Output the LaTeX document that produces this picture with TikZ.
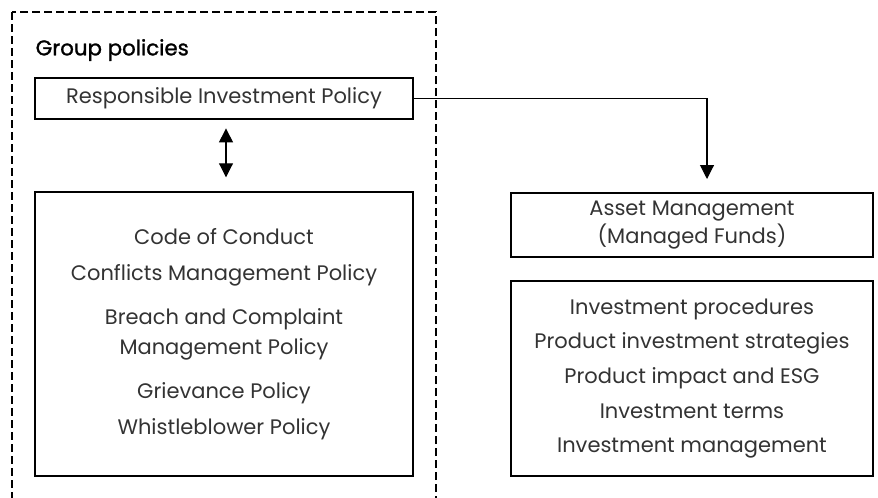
\documentclass[tikz,border=0pt]{standalone}
\usepackage{fontspec}
\setmainfont{Poppins}
\newfontfamily\headfont{Poppins}[FakeBold=1.2]
\usetikzlibrary{arrows.meta, positioning}

\begin{document}
\begin{tikzpicture}[
    x=0.75pt, y=-0.75pt,
    box/.style={rectangle, draw, line width=1.1pt, align=center, inner sep=0pt,
        text=black!80, font=\fontsize{15.75}{21}\selectfont},
    group/.style={draw, line width=1.1pt, dash pattern=on 6pt off 3pt},
    arrow/.style={-{Triangle[length=10.5pt, width=10.5pt]}, line width=0.8pt}
]
\useasboundingbox (0,0) rectangle (878,497);
\clip (0,0) rectangle (878,497);

% group frame, runs on below the page
\draw[group] (12,12) rectangle (436,520);
\node[anchor=west, font=\headfont\fontsize{16}{18}\selectfont] (grouptitle) at (31,50) {Group policies};

\node[box, minimum width=283.5pt, minimum height=30.75pt] (rip) at (224,98.5) {Responsible Investment Policy};
\node[box, minimum width=283.5pt, minimum height=213pt,
    font=\fontsize{15.75}{22.5}\selectfont] (policies) at (224,334)
    {Code of Conduct\\[4.5pt]
     Conflicts Management Policy\\[10.5pt]
     Breach and Complaint\\
     Management Policy\\[10.5pt]
     Grievance Policy\\[4.5pt]
     Whistleblower Policy};

\node[box, minimum width=271.5pt, minimum height=48pt] (asset) at (692,225) {Asset Management\\(Managed Funds)};
\node[box, minimum width=271.5pt, minimum height=146.25pt,
    font=\fontsize{15.75}{26}\selectfont] (invest) at (692,378.5)
    {Investment procedures\\
     Product investment strategies\\
     Product impact and ESG\\
     Investment terms\\
     Investment management};

\coordinate (drop) at (707,193);

\draw[arrow] (rip.east) -| ([yshift=10.5pt]drop);
\draw[arrow, {Triangle[length=10.5pt, width=10.5pt]}-{Triangle[length=10.5pt, width=10.5pt]},
    shorten <=6.5pt, shorten >=10.5pt] ([xshift=1.5pt]rip.south) -- ([xshift=1.5pt]policies.north);
\end{tikzpicture}
\end{document}
